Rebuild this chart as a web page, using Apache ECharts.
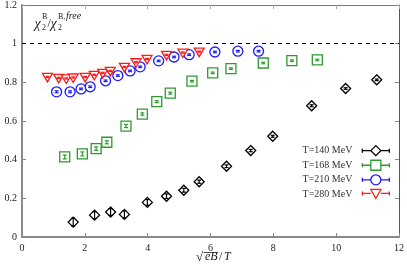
<!DOCTYPE html>
<html>
<head>
<meta charset="utf-8">
<script src="https://cdn.jsdelivr.net/npm/echarts@6/dist/echarts.min.js"></script>
<style>html,body{margin:0;padding:0;background:#fff}#c{width:407px;height:269px}</style>
</head>
<body>
<div id="c"></div>
<script>
// sqrt(eB)/T, chi ratio, error
const t140x = [1.63, 2.31, 2.82, 3.26, 3.99, 4.60, 5.15, 5.64, 6.51, 7.28, 7.98, 9.22, 10.30, 11.29];
const t140y = [0.077, 0.113, 0.129, 0.117, 0.179, 0.211, 0.242, 0.286, 0.366, 0.447, 0.521, 0.679, 0.768, 0.813];
const t140e = [0.02, 0.018, 0.018, 0.018, 0.015, 0.012, 0.01, 0.008, 0.007, 0.006, 0.005, 0.005, 0.004, 0.004];

const t168x = [1.36, 1.92, 2.36, 2.70, 3.31, 3.83, 4.29, 4.72, 5.41, 6.07, 6.65, 7.68, 8.59, 9.40];
const t168y = [0.414, 0.430, 0.457, 0.490, 0.574, 0.636, 0.700, 0.744, 0.806, 0.849, 0.871, 0.900, 0.912, 0.916];
const t168e = [0.01, 0.01, 0.009, 0.008, 0.008, 0.006, 0.005, 0.005, 0.004, 0.004, 0.004, 0.004, 0.004, 0.004];

const t210x = [1.10, 1.53, 1.88, 2.17, 2.66, 3.05, 3.44, 3.76, 4.35, 4.84, 5.32, 6.14, 6.87, 7.53];
const t210y = [0.751, 0.751, 0.766, 0.777, 0.808, 0.835, 0.859, 0.880, 0.911, 0.931, 0.943, 0.957, 0.961, 0.961];
const t210e = [0.005, 0.005, 0.004, 0.004, 0.004, 0.004, 0.004, 0.004, 0.004, 0.004, 0.004, 0.004, 0.004, 0.004];

const t280x = [0.81, 1.17, 1.41, 1.63, 2.01, 2.30, 2.57, 2.81, 3.26, 3.63, 3.98, 4.60, 5.12, 5.64];
const t280y = [0.828, 0.823, 0.820, 0.825, 0.828, 0.839, 0.849, 0.859, 0.880, 0.904, 0.921, 0.942, 0.954, 0.959];
const t280e = [0.003, 0.003, 0.003, 0.003, 0.003, 0.003, 0.003, 0.003, 0.003, 0.003, 0.003, 0.003, 0.003, 0.003];

const seriesNames = ['T=140 MeV', 'T=168 MeV', 'T=210 MeV', 'T=280 MeV'];
const seriesColors = ['#000000', '#2e9a2e', '#1a1aff', '#ff1a1a'];
const shapes = ['diamond', 'square', 'circle', 'triangle'];
const xTicks = [0, 2, 4, 6, 8, 10, 12];
const yTicks = [0, 0.2, 0.4, 0.6, 0.8, 1, 1.2];

const serif = 'Liberation Serif';
const pts = (xs, ys, es) => xs.map((x, i) => [x, ys[i], es[i]]);
const allData = [pts(t140x, t140y, t140e), pts(t168x, t168y, t168e), pts(t210x, t210y, t210e), pts(t280x, t280y, t280e)];

function markerShape(kind, cx, cy, c) {
  const st = {fill: '#fff', stroke: c, lineWidth: 1.3};
  const h = 5;
  if (kind === 'circle') return {type: 'circle', shape: {cx, cy, r: h}, style: st};
  if (kind === 'square') return {type: 'rect', shape: {x: cx - h, y: cy - h, width: 2 * h, height: 2 * h}, style: st};
  if (kind === 'diamond') return {type: 'polygon', shape: {points: [[cx, cy - h], [cx + h, cy], [cx, cy + h], [cx - h, cy]]}, style: st};
  return {type: 'polygon', shape: {points: [[cx - h, cy - 3.5], [cx + h, cy - 3.5], [cx, cy + 5]]}, style: st};
}

function makeRender(kind, c) {
  return function (params, api) {
    const p = api.coord([api.value(0), api.value(1)]);
    const e = Math.max(api.size([0, api.value(2)])[1], 0.6);
    const ls = {stroke: c, lineWidth: 1.2};
    return {
      type: 'group',
      children: [
        markerShape(kind, p[0], p[1], c),
        {type: 'line', shape: {x1: p[0], y1: p[1] - e, x2: p[0], y2: p[1] + e}, style: ls},
        {type: 'line', shape: {x1: p[0] - 2, y1: p[1] - e, x2: p[0] + 2, y2: p[1] - e}, style: ls},
        {type: 'line', shape: {x1: p[0] - 2, y1: p[1] + e, x2: p[0] + 2, y2: p[1] + e}, style: ls}
      ]
    };
  };
}

const iconPaths = {
  diamond: 'path://M0,3L0,7M0,5L8.5,5M18.5,5L27,5M27,3L27,7M13.5,0L18.5,5L13.5,10L8.5,5Z',
  square: 'path://M0,3L0,7M0,5L8.5,5M18.5,5L27,5M27,3L27,7M8.5,0L18.5,0L18.5,10L8.5,10Z',
  circle: 'path://M0,3L0,7M0,5L8.5,5M18.5,5L27,5M27,3L27,7M8.5,5A5,5,0,1,1,18.5,5A5,5,0,1,1,8.5,5Z',
  triangle: 'path://M0,3L0,7M0,5L8.5,5M18.5,5L27,5M27,3L27,7M8.5,1L18.5,1L13.5,10Z'
};

const chart = echarts.init(document.getElementById('c'), null, {renderer: 'canvas'});

const series = allData.map((d, i) => ({
  name: seriesNames[i],
  type: 'custom',
  xAxisIndex: 0,
  yAxisIndex: 0,
  data: d,
  itemStyle: {color: seriesColors[i]},
  renderItem: makeRender(shapes[i], seriesColors[i]),
  z: 10 + i
}));
series.push({
  name: 'ref',
  type: 'line',
  data: [],
  markLine: {
    silent: true,
    symbol: 'none',
    label: {show: false},
    lineStyle: {color: '#000', type: [4, 4], width: 1},
    data: [{yAxis: 1}]
  }
});

const axisLbl = {fontFamily: serif, fontSize: 10, color: '#222'};
const txt = (x, y, s, size, italic) => ({
  type: 'text', x: x, y: y, z: 50,
  style: {text: s, fontFamily: serif, fontSize: size, fontStyle: italic ? 'italic' : 'normal', fill: '#222', verticalAlign: 'bottom', align: 'left'}
});

chart.setOption({
  animation: false,
  grid: {left: 22, right: 8, top: 4, bottom: 32, containLabel: false},
  xAxis: [
    {type: 'value', min: 0, max: 12, interval: 2, position: 'bottom',
     axisLine: {lineStyle: {color: '#8a8a8a', width: 2}},
     axisTick: {inside: true, length: 4, lineStyle: {color: '#8a8a8a'}},
     axisLabel: Object.assign({margin: 6, formatter: v => xTicks.includes(v) ? String(v) : ''}, axisLbl),
     splitLine: {show: false}},
    {type: 'value', min: 0, max: 12, interval: 2, position: 'top',
     axisLine: {onZero: false, lineStyle: {color: '#777', width: 1}},
     axisTick: {inside: true, length: 4, lineStyle: {color: '#aaa'}},
     axisLabel: {show: false}, splitLine: {show: false}}
  ],
  yAxis: [
    {type: 'value', min: 0, max: 1.2, interval: 0.2, position: 'left',
     axisLine: {show: true, lineStyle: {color: '#8a8a8a', width: 2}},
     axisTick: {show: true, inside: true, length: 4, lineStyle: {color: '#8a8a8a'}},
     axisLabel: Object.assign({margin: 5, formatter: v => {
       const t = yTicks.find(k => Math.abs(k - v) < 1e-6);
       return t === undefined ? '' : String(t);
     }}, axisLbl),
     splitLine: {show: false}},
    {type: 'value', min: 0, max: 1.2, interval: 0.2, position: 'right',
     axisLine: {show: true, onZero: false, lineStyle: {color: '#555', width: 1}},
     axisTick: {show: true, inside: true, length: 4, lineStyle: {color: '#888'}},
     axisLabel: {show: false}, splitLine: {show: false}}
  ],
  legend: {
    orient: 'vertical',
    right: 12,
    top: 140,
    align: 'right',
    itemWidth: 27,
    itemHeight: 10,
    itemGap: 3.3,
    textStyle: {fontFamily: serif, fontSize: 10, color: '#333', padding: [0, 5, 0, 0]},
    data: seriesNames.map((n, i) => ({
      name: n,
      icon: iconPaths[shapes[i]],
      itemStyle: {color: '#fff', borderColor: seriesColors[i], borderWidth: 1.3}
    }))
  },
  graphic: [
    txt(34.5, 31, 'χ', 14, true),
    txt(42, 32, '2', 8, false),
    txt(42, 21, 'B', 8, false),
    txt(47.5, 30, '/', 12, false),
    txt(50.5, 31, 'χ', 14, true),
    txt(58, 32, '2', 8, false),
    txt(58, 21, 'B,', 8, false),
    txt(66, 21.5, 'free', 10, true),
    txt(196, 264, '√', 13, false),
    txt(205, 263, 'eB', 12, true),
    txt(219, 263, '/', 12, false),
    txt(224, 263, 'T', 12, true),
    {type: 'line', z: 50, shape: {x1: 203.5, y1: 252.5, x2: 218, y2: 252.5}, style: {stroke: '#222', lineWidth: 0.8}}
  ],
  series: series
});
</script>
</body>
</html>
